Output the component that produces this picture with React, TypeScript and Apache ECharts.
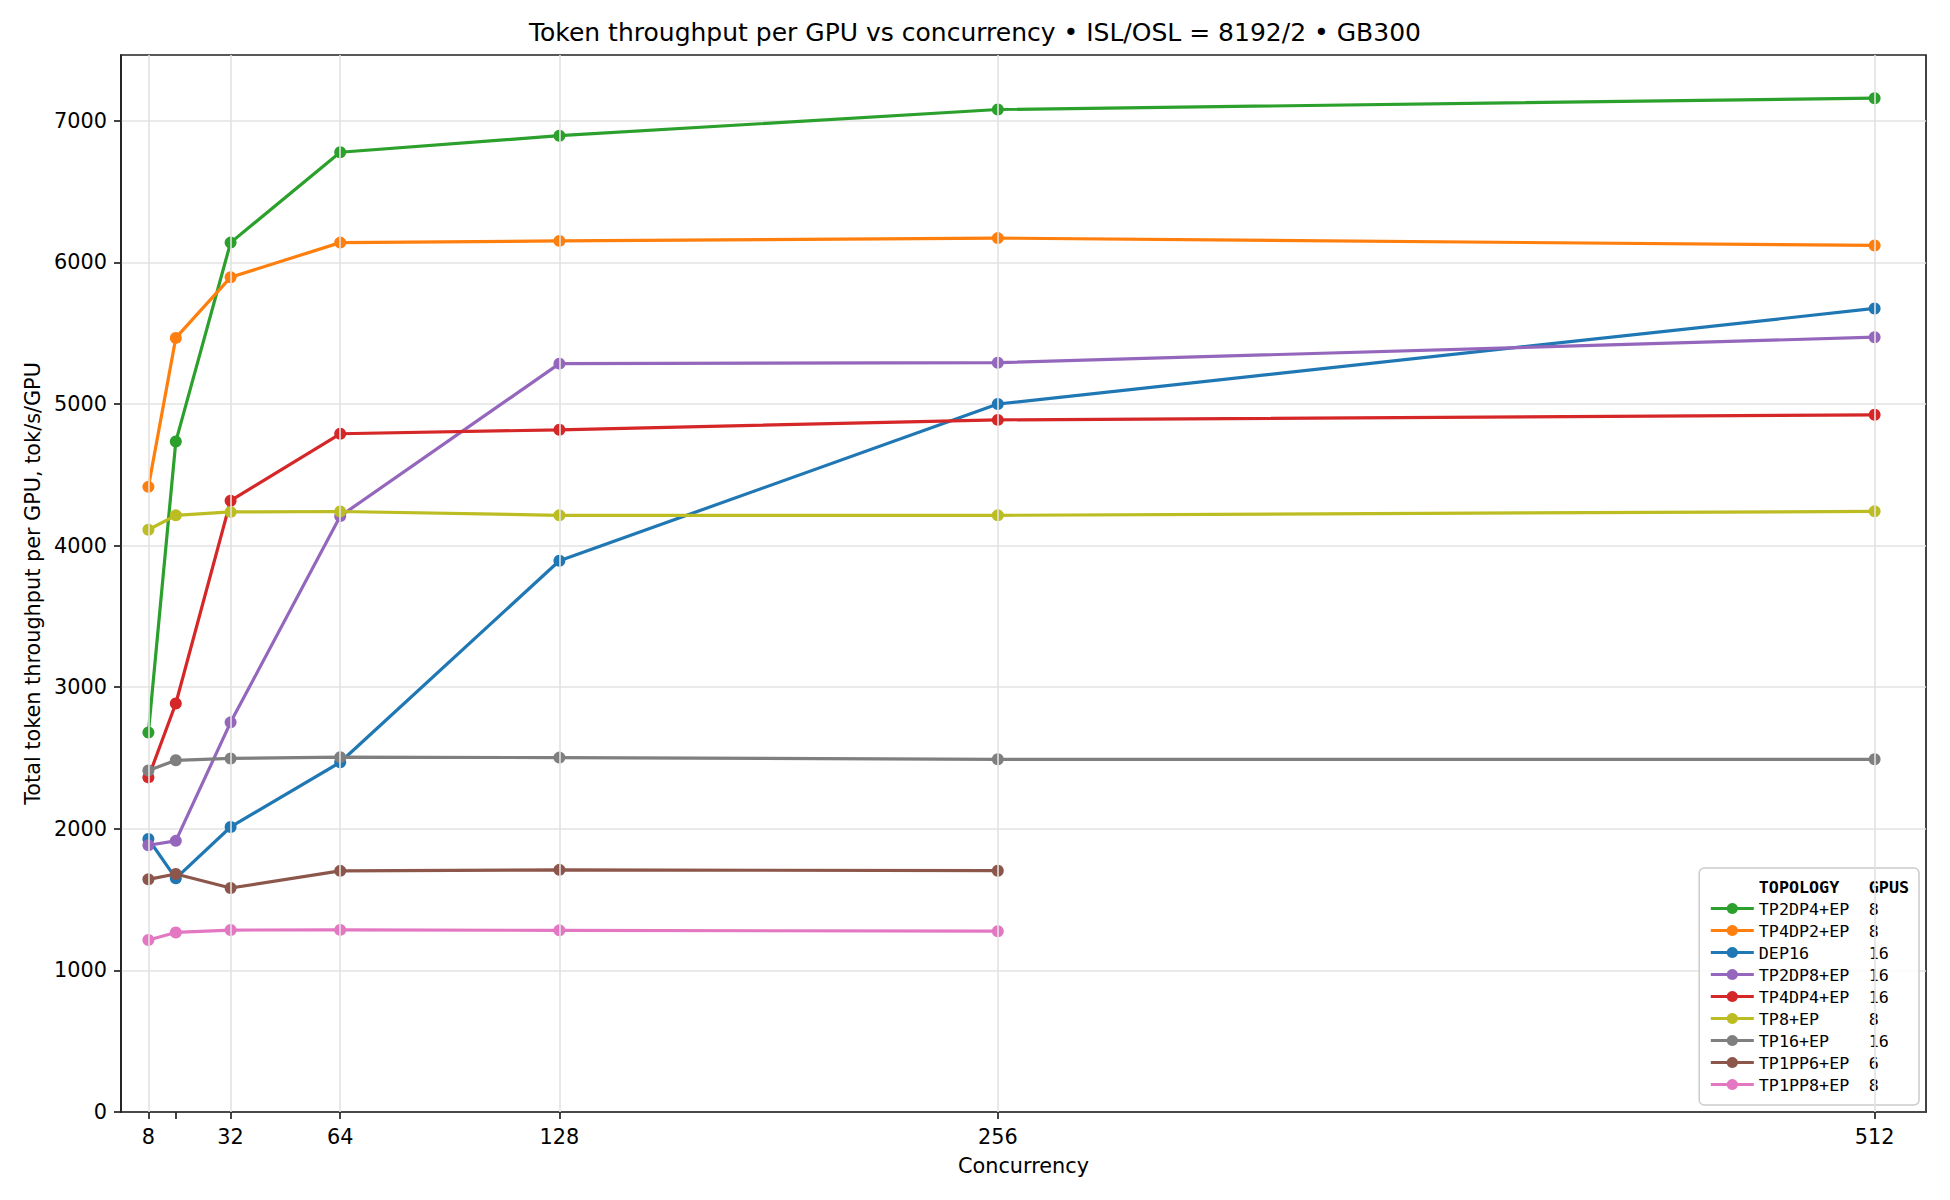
import { useEffect, useRef } from 'react'
import * as echarts from 'echarts'

const CONCURRENCY = [8, 16, 32, 64, 128, 256, 512]
const X_LABELS = [8, 32, 64, 128, 256, 512]
const Y_TICKS = [0, 1000, 2000, 3000, 4000, 5000, 6000, 7000]

const TOPOLOGIES = [
  'TP2DP4+EP',
  'TP4DP2+EP',
  'DEP16',
  'TP2DP8+EP',
  'TP4DP4+EP',
  'TP8+EP',
  'TP16+EP',
  'TP1PP6+EP',
  'TP1PP8+EP',
]
const GPUS = [8, 8, 16, 16, 16, 8, 16, 6, 8]

const TP2DP4 = [2680, 4735, 6140, 6778, 6895, 7080, 7160]
const TP4DP2 = [4415, 5467, 5895, 6140, 6152, 6172, 6120]
const DEP16 = [1928, 1650, 2013, 2470, 3893, 5000, 5675]
const TP2DP8 = [1884, 1915, 2752, 4208, 5285, 5292, 5472]
const TP4DP4 = [2363, 2885, 4317, 4790, 4818, 4888, 4924]
const TP8 = [4112, 4214, 4238, 4241, 4214, 4214, 4242]
const TP16 = [2412, 2484, 2497, 2506, 2503, 2491, 2491]
const TP1PP6 = [1643, 1681, 1582, 1703, 1710, 1704]
const TP1PP8 = [1215, 1268, 1285, 1286, 1283, 1277]

const VALUES = [TP2DP4, TP4DP2, DEP16, TP2DP8, TP4DP4, TP8, TP16, TP1PP6, TP1PP8]

const COLORS = ['#2ca02c', '#ff7f0e', '#1f77b4', '#9467bd', '#d62728', '#bcbd22', '#7f7f7f', '#8c564b', '#e377c2']

const HEADER = 'header'
const FONT = '"DejaVu Sans", sans-serif'
const MONO = '"DejaVu Sans Mono", monospace'
const GRID_COLOR = '#e3e3e3'

export default function App() {
  const ref = useRef<HTMLDivElement>(null)

  useEffect(() => {
    if (!ref.current) return
    const chart = echarts.init(ref.current, undefined, { renderer: 'svg' })

    const lines = TOPOLOGIES.map((name, i) => ({
      name,
      type: 'line',
      data: VALUES[i].map((v, j) => [CONCURRENCY[j], v]),
      symbol: 'circle',
      symbolSize: 12,
      showSymbol: true,
      z: 3,
      lineStyle: { width: 3.2, color: COLORS[i] },
      itemStyle: { color: COLORS[i], borderWidth: 0, opacity: 1 },
    }))

    const mono = { fontFamily: MONO, fontSize: 16.7, lineHeight: 14, color: '#000' }

    chart.setOption({
      animation: false,
      backgroundColor: '#ffffff',
      textStyle: { fontFamily: FONT },
      title: {
        text: 'Token throughput per GPU vs concurrency • ISL/OSL = 8192/2 • GB300',
        left: 'center',
        top: 20,
        // shift the centre onto the plot area rather than the whole canvas
        padding: [0, 0, 0, 98],
        textStyle: { fontFamily: FONT, fontSize: 25, fontWeight: 'normal', color: '#000' },
      },
      grid: {
        left: 121,
        right: 24,
        top: 55,
        bottom: 88,
        show: true,
        borderColor: '#222',
        borderWidth: 1.7,
        backgroundColor: 'transparent',
      },
      xAxis: {
        type: 'value',
        min: 0,
        max: 527,
        name: 'Concurrency',
        nameLocation: 'middle',
        nameGap: 43,
        nameTextStyle: { fontFamily: FONT, fontSize: 20.8, color: '#000' },
        axisLine: { show: true, onZero: false, lineStyle: { color: '#222', width: 1.7 } },
        axisTick: { show: true, length: 7, customValues: CONCURRENCY, lineStyle: { color: '#222', width: 1.7 } },
        axisLabel: { customValues: X_LABELS, margin: 14, fontFamily: FONT, fontSize: 20.8, color: '#000' },
        splitLine: { show: false },
      },
      yAxis: {
        type: 'value',
        min: 0,
        max: 7465,
        interval: 1000,
        name: 'Total token throughput per GPU, tok/s/GPU',
        nameLocation: 'middle',
        nameGap: 75,
        nameTextStyle: { fontFamily: FONT, fontSize: 20.8, color: '#000' },
        axisLine: { show: true, lineStyle: { color: '#222', width: 1.7 } },
        axisTick: { show: true, length: 7, customValues: Y_TICKS, lineStyle: { color: '#222', width: 1.7 } },
        axisLabel: {
          customValues: Y_TICKS,
          margin: 14,
          fontFamily: FONT,
          fontSize: 20.8,
          color: '#000',
          formatter: (v: number) => (v % 1000 === 0 ? String(v) : ''),
        },
        splitLine: { show: true, lineStyle: { color: GRID_COLOR, width: 1.6 } },
      },
      legend: {
        orient: 'vertical',
        right: 31,
        bottom: 95,
        itemWidth: 43,
        itemHeight: 14,
        itemGap: 5,
        itemTextGap: 11,
        padding: [10, 10, 12, 10],
        backgroundColor: 'rgba(255,255,255,0.85)',
        borderColor: '#cccccc',
        borderWidth: 1.5,
        borderRadius: 5,
        selectedMode: false,
        lineStyle: { width: 3.2 },
        data: [
          { name: HEADER, icon: 'rect', itemStyle: { opacity: 0 }, lineStyle: { opacity: 0 } },
          ...TOPOLOGIES,
        ],
        formatter: (name: string) => {
          if (name === HEADER) return '{hn|TOPOLOGY}{hg|GPUS}'
          const i = TOPOLOGIES.indexOf(name)
          return `{n|${name}}{g|${GPUS[i]}}`
        },
        textStyle: {
          ...mono,
          rich: {
            n: { ...mono, width: 110 },
            g: { ...mono },
            hn: { ...mono, width: 110, fontWeight: 'bold' },
            hg: { ...mono, fontWeight: 'bold' },
          },
        },
      },
      series: [
        {
          // vertical grid lines only at the labelled concurrencies (none at 16)
          name: 'xgrid',
          type: 'line',
          data: [],
          z: 1,
          silent: true,
          markLine: {
            silent: true,
            symbol: ['none', 'none'],
            label: { show: false },
            lineStyle: { color: GRID_COLOR, width: 1.6, type: 'solid' },
            emphasis: { disabled: true },
            data: X_LABELS.map((v) => ({ xAxis: v })),
          },
        },
        {
          name: HEADER,
          type: 'line',
          data: [],
          symbol: 'none',
          lineStyle: { opacity: 0 },
          itemStyle: { opacity: 0 },
        },
        ...lines,
      ],
    })

    const onResize = () => chart.resize()
    window.addEventListener('resize', onResize)
    return () => {
      window.removeEventListener('resize', onResize)
      chart.dispose()
    }
  }, [])

  return (
    <div
      ref={ref}
      style={{ position: 'fixed', left: 0, top: 0, width: 1950, height: 1200, background: '#fff' }}
    />
  )
}
